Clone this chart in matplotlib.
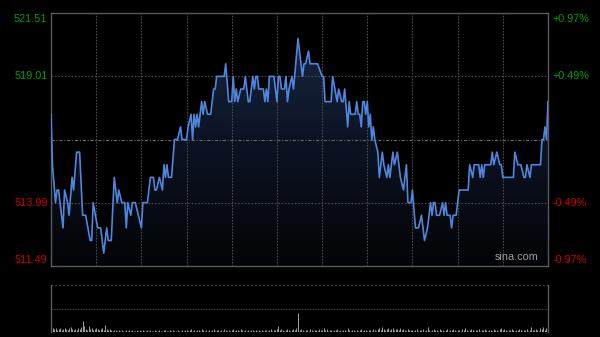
import numpy as np
import matplotlib
matplotlib.use("Agg")
import matplotlib.pyplot as plt
from matplotlib.colors import LinearSegmentedColormap

plt.rcParams["font.family"] = ["Liberation Sans", "DejaVu Sans"]

# intraday price vertices (minute from open, price) -- HK session, 330 minutes
minutes = [0, 1, 3, 4, 5, 6, 8, 9, 11, 12, 14, 15, 17, 19, 21, 23, 26, 27, 28, 31,
           33, 35, 37, 38, 40, 42, 44, 45, 47, 49, 50, 51, 53, 54, 56, 58, 60, 61, 64, 66,
           68, 69, 70, 72, 74, 75, 76, 77, 78, 80, 82, 84, 86, 87, 90, 91, 93, 94, 95, 96,
           97, 98, 100, 101, 102, 104, 106, 107, 108, 109, 110, 115, 116, 118, 120, 121, 122, 123, 124, 126,
           128, 129, 131, 132, 134, 135, 136, 137, 138, 141, 142, 143, 144, 145, 148, 150, 151, 152, 153, 155,
           156, 157, 158, 160, 161, 164, 167, 168, 169, 171, 172, 177, 180, 181, 182, 186, 187, 190, 191, 193,
           194, 195, 197, 198, 199, 202, 203, 204, 205, 206, 207, 208, 209, 210, 211, 212, 213, 214, 215, 217,
           218, 220, 221, 223, 224, 225, 227, 228, 230, 231, 232, 234, 236, 237, 239, 240, 242, 244, 246, 248,
           250, 252, 253, 254, 255, 256, 258, 260, 261, 262, 263, 265, 266, 267, 269, 271, 277, 278, 280, 281,
           284, 285, 286, 287, 288, 292, 293, 294, 296, 298, 299, 300, 307, 308, 310, 312, 314, 315, 316, 318,
           319, 325, 326, 327, 328, 329, 330]
prices = [517.5, 515.5, 514.0, 514.5, 514.5, 514.0, 513.0, 514.5, 514.0, 513.5, 515.0, 514.5, 516.0, 516.0, 513.5, 513.5, 512.5, 512.5, 514.0, 513.0,
          513.0, 512.0, 513.0, 512.5, 512.5, 515.0, 514.0, 514.5, 514.0, 514.0, 513.0, 514.0, 513.5, 514.0, 514.0, 513.5, 513.0, 514.0, 514.0, 515.0,
          515.0, 514.5, 514.5, 515.0, 514.5, 515.5, 515.0, 515.5, 515.0, 515.0, 516.5, 516.5, 517.0, 516.5, 516.5, 517.0, 517.5, 516.5, 517.5, 517.0,
          517.5, 517.0, 518.0, 517.5, 518.0, 517.5, 517.5, 518.0, 518.5, 518.5, 519.0, 519.0, 519.5, 518.0, 518.0, 519.0, 518.0, 518.5, 518.0, 518.5,
          518.5, 519.0, 518.0, 518.0, 519.0, 518.5, 519.0, 519.0, 518.5, 518.5, 518.0, 518.5, 518.0, 519.0, 519.0, 518.0, 519.0, 519.0, 518.5, 518.5,
          519.0, 518.0, 518.5, 519.0, 518.5, 520.5, 519.0, 519.5, 519.5, 520.0, 519.5, 519.5, 519.0, 519.0, 518.0, 518.0, 519.0, 518.0, 518.5, 518.0,
          518.0, 518.5, 517.0, 518.0, 517.5, 517.5, 518.0, 517.5, 517.5, 517.0, 518.0, 518.0, 517.5, 518.0, 517.0, 517.5, 516.5, 517.0, 516.5, 516.0,
          515.0, 516.0, 515.5, 515.0, 515.5, 515.0, 516.0, 515.5, 516.0, 515.5, 515.0, 514.5, 515.5, 514.0, 514.0, 514.5, 513.0, 513.0, 513.5, 512.5,
          513.0, 514.0, 513.5, 514.0, 514.0, 513.5, 513.5, 514.0, 513.5, 514.0, 513.5, 513.5, 513.0, 513.5, 513.5, 514.5, 514.5, 515.5, 515.0, 515.5,
          515.5, 515.0, 515.5, 515.0, 515.5, 515.5, 516.0, 515.5, 516.0, 515.5, 515.5, 515.0, 515.0, 516.0, 515.5, 515.5, 515.0, 515.0, 515.5, 515.0,
          515.5, 515.5, 516.5, 516.5, 517.0, 516.5, 518.0]

# per-minute volume (arbitrary units), one row per half hour
volume_rows = [
    [9, 4, 3, 4, 2, 3, 4, 2, 3, 4, 3, 2, 4, 5, 3, 2, 3, 2, 4, 3, 5, 11, 6, 3, 2, 6, 3, 4, 2, 3],
    [4, 3, 2, 3, 4, 2, 7, 3, 2, 3, 2, 1, 2, 2, 1, 2, 1, 2, 1, 1, 2, 1, 2, 1, 2, 1, 1, 2, 1, 2],
    [1, 2, 1, 1, 2, 1, 2, 1, 1, 2, 1, 1, 2, 1, 1, 2, 2, 1, 1, 2, 1, 2, 1, 1, 2, 1, 1, 2, 1, 2],
    [2, 1, 2, 3, 1, 2, 1, 2, 2, 1, 3, 2, 1, 2, 1, 2, 1, 2, 3, 1, 2, 2, 1, 2, 1, 3, 2, 1, 2, 1],
    [2, 3, 1, 2, 2, 1, 3, 2, 1, 2, 1, 2, 1, 2, 2, 1, 2, 1, 2, 1, 2, 1, 2, 2, 1, 2, 3, 1, 2, 2],
    [3, 6, 2, 3, 2, 1, 2, 3, 2, 1, 2, 3, 2, 4, 19, 2, 3, 2, 1, 2, 2, 1, 3, 2, 1, 2, 2, 1, 3, 2],
    [2, 4, 2, 3, 1, 2, 2, 1, 2, 2, 3, 1, 2, 1, 2, 2, 1, 4, 2, 1, 2, 2, 1, 2, 1, 2, 3, 1, 2, 2],
    [1, 2, 2, 1, 3, 2, 1, 3, 4, 2, 5, 3, 2, 3, 4, 2, 3, 4, 2, 3, 3, 2, 4, 2, 3, 2, 1, 3, 2, 2],
    [2, 1, 2, 3, 1, 2, 2, 3, 1, 2, 5, 2, 1, 2, 3, 2, 2, 1, 3, 2, 2, 1, 2, 3, 1, 2, 2, 3, 2, 1],
    [2, 2, 1, 3, 2, 4, 2, 1, 2, 3, 2, 1, 2, 2, 3, 1, 2, 2, 3, 2, 1, 2, 2, 1, 3, 2, 2, 1, 3, 4],
    [2, 3, 2, 1, 2, 2, 3, 2, 1, 2, 2, 3, 2, 1, 2, 2, 3, 1, 2, 5, 2, 2, 3, 2, 1, 4, 3, 5, 2, 4, 5],
]

prev_close = 516.5
y_lo, y_hi = 511.49, 521.51
left_ticks = [521.51, 519.01, 513.99, 511.49]
right_labels = ["+0.97%", "+0.49%", "-0.49%", "-0.97%"]
label_colors = ["#00a000", "#00a000", "#d00000", "#d00000"]

BG = "#000000"
FRAME = "#5a5a5a"
GRID = "#4a4a4a"
LINE = "#4f86dc"

fig = plt.figure(figsize=(6.0, 3.37), dpi=100, facecolor=BG)
ax = fig.add_axes([51 / 600, 1 - 266 / 337, 497 / 600, 253 / 337], facecolor=BG)
axv = fig.add_axes([51 / 600, 1 - 332 / 337, 497 / 600, 47 / 337], facecolor=BG)

# price line with gradient fill
ax.set_xlim(0, 330)
ax.set_ylim(y_lo, y_hi)
cmap = LinearSegmentedColormap.from_list("fill", ["#030406", "#0c1424", "#1b2a48"])
grad = np.linspace(0, 1, 256).reshape(-1, 1)
img = ax.imshow(grad, extent=[0, 330, y_lo, y_hi], origin="lower", aspect="auto",
                cmap=cmap, zorder=1)
poly = ax.fill_between(minutes, prices, y_lo, color="none", lw=0)
img.set_clip_path(poly.get_paths()[0], transform=ax.transData)
ax.plot(minutes, prices, color=LINE, lw=1.2, zorder=3)

# grid
for m in range(30, 330, 30):
    ax.axvline(m, color=GRID, lw=0.8, ls=(0, (1.5, 1.2)), zorder=2)
for v in [519.01, 513.99]:
    ax.axhline(v, color=GRID, lw=0.8, ls=(0, (1.5, 1.5)), zorder=2)
ax.axhline(prev_close, color="#666666", lw=0.8, ls=(0, (3, 1.5, 1, 1.5)), zorder=2)

for s in ax.spines.values():
    s.set_color(FRAME)
    s.set_linewidth(1.0)
ax.set_xticks([])
ax.set_yticks([])

# price / percent labels
label_y = [521.51 - 0.24, 519.01, 513.99, 511.49 + 0.24]
for v, txt, col, yy in zip(left_ticks, right_labels, label_colors, label_y):
    ax.text(-0.007, yy, f"{v:.2f}", transform=ax.get_yaxis_transform(), color=col,
            fontsize=7.8, ha="right", va="center")
    ax.text(1.009, yy, txt, transform=ax.get_yaxis_transform(), color=col,
            fontsize=7.8, ha="left", va="center")
ax.text(0.98, 511.49 + 0.15, "sina.com", transform=ax.get_yaxis_transform(),
        color="#9a9a9a", fontsize=7.8, ha="right", va="bottom", zorder=4)

# volume panel
vol = [v for row in volume_rows for v in row]
axv.vlines(range(len(vol)), 0, vol, color="#9a9a9a", lw=0.75)
axv.set_xlim(0, 330)
axv.set_ylim(0, 47)
axv.axhline(23.5, color=GRID, lw=0.8, ls=(0, (1.2, 1.2)))
axv.axhline(47, color=GRID, lw=1.2, ls=(0, (1.2, 1.2)))
axv.spines["top"].set_visible(False)
axv.spines["bottom"].set_visible(False)
for side in ["left", "right"]:
    axv.spines[side].set_color(FRAME)
    axv.spines[side].set_linewidth(1.0)
axv.set_xticks([])
axv.set_yticks([])

fig.savefig("out.png", dpi=100, facecolor=BG)
